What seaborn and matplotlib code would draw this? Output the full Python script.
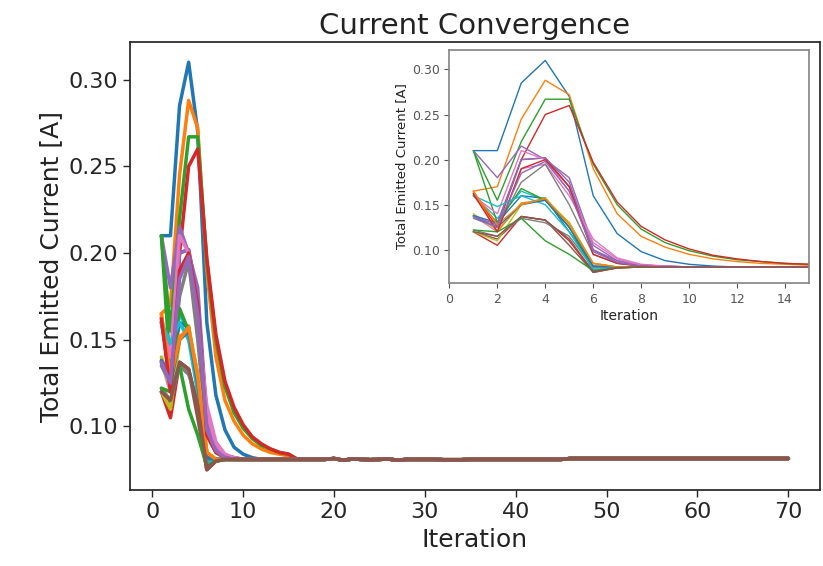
import numpy as np
import pandas as pd
import matplotlib
matplotlib.use("Agg")
import matplotlib.pyplot as plt
import seaborn as sns

# Iterations 1..70
iterations = list(range(1, 71))

# first 15 iterations of each run
head_00 = [0.210, 0.210, 0.285, 0.310, 0.270, 0.160, 0.118, 0.098, 0.088, 0.084, 0.082, 0.081, 0.081, 0.081, 0.081]
head_01 = [0.165, 0.170, 0.245, 0.288, 0.272, 0.190, 0.140, 0.115, 0.103, 0.095, 0.090, 0.087, 0.085, 0.084, 0.083]
head_02 = [0.210, 0.155, 0.220, 0.267, 0.267, 0.195, 0.150, 0.123, 0.108, 0.099, 0.093, 0.089, 0.087, 0.085, 0.084]
head_03 = [0.163, 0.125, 0.200, 0.250, 0.260, 0.197, 0.153, 0.126, 0.111, 0.101, 0.094, 0.090, 0.087, 0.085, 0.084]
head_04 = [0.210, 0.180, 0.215, 0.200, 0.180, 0.105, 0.088, 0.083, 0.082, 0.081, 0.081, 0.081, 0.081, 0.081, 0.081]
head_05 = [0.160, 0.130, 0.200, 0.202, 0.170, 0.100, 0.086, 0.082, 0.081, 0.081, 0.081, 0.081, 0.081, 0.081, 0.081]
head_06 = [0.138, 0.120, 0.190, 0.195, 0.160, 0.112, 0.091, 0.084, 0.082, 0.081, 0.081, 0.081, 0.081, 0.081, 0.081]
head_07 = [0.135, 0.125, 0.175, 0.195, 0.150, 0.095, 0.085, 0.082, 0.081, 0.081, 0.081, 0.081, 0.081, 0.081, 0.081]
head_08 = [0.140, 0.122, 0.150, 0.158, 0.125, 0.085, 0.081, 0.081, 0.081, 0.081, 0.081, 0.081, 0.081, 0.081, 0.081]
head_09 = [0.160, 0.135, 0.165, 0.155, 0.130, 0.080, 0.081, 0.081, 0.081, 0.081, 0.081, 0.081, 0.081, 0.081, 0.081]
head_10 = [0.138, 0.130, 0.160, 0.157, 0.120, 0.082, 0.081, 0.081, 0.081, 0.081, 0.081, 0.081, 0.081, 0.081, 0.081]
head_11 = [0.165, 0.120, 0.152, 0.155, 0.130, 0.085, 0.081, 0.081, 0.081, 0.081, 0.081, 0.081, 0.081, 0.081, 0.081]
head_12 = [0.210, 0.130, 0.168, 0.155, 0.125, 0.077, 0.081, 0.081, 0.081, 0.081, 0.081, 0.081, 0.081, 0.081, 0.081]
head_13 = [0.120, 0.105, 0.137, 0.133, 0.110, 0.075, 0.080, 0.081, 0.081, 0.081, 0.081, 0.081, 0.081, 0.081, 0.081]
head_14 = [0.137, 0.128, 0.200, 0.202, 0.175, 0.100, 0.088, 0.083, 0.082, 0.081, 0.081, 0.081, 0.081, 0.081, 0.081]
head_15 = [0.120, 0.112, 0.137, 0.133, 0.105, 0.075, 0.080, 0.081, 0.081, 0.081, 0.081, 0.081, 0.081, 0.081, 0.081]
head_16 = [0.160, 0.140, 0.210, 0.200, 0.165, 0.108, 0.090, 0.083, 0.082, 0.081, 0.081, 0.081, 0.081, 0.081, 0.081]
head_17 = [0.122, 0.115, 0.135, 0.130, 0.115, 0.080, 0.081, 0.081, 0.081, 0.081, 0.081, 0.081, 0.081, 0.081, 0.081]
head_18 = [0.120, 0.110, 0.150, 0.157, 0.130, 0.085, 0.081, 0.081, 0.081, 0.081, 0.081, 0.081, 0.081, 0.081, 0.081]
head_19 = [0.160, 0.148, 0.160, 0.150, 0.120, 0.078, 0.081, 0.081, 0.081, 0.081, 0.081, 0.081, 0.081, 0.081, 0.081]
head_20 = [0.137, 0.125, 0.150, 0.155, 0.125, 0.082, 0.081, 0.081, 0.081, 0.081, 0.081, 0.081, 0.081, 0.081, 0.081]
head_21 = [0.165, 0.128, 0.150, 0.157, 0.128, 0.085, 0.081, 0.081, 0.081, 0.081, 0.081, 0.081, 0.081, 0.081, 0.081]
head_22 = [0.122, 0.120, 0.135, 0.110, 0.095, 0.077, 0.080, 0.081, 0.081, 0.081, 0.081, 0.081, 0.081, 0.081, 0.081]
head_23 = [0.162, 0.120, 0.190, 0.200, 0.170, 0.095, 0.085, 0.082, 0.081, 0.081, 0.081, 0.081, 0.081, 0.081, 0.081]
head_24 = [0.137, 0.125, 0.185, 0.198, 0.165, 0.098, 0.086, 0.082, 0.081, 0.081, 0.081, 0.081, 0.081, 0.081, 0.081]
head_25 = [0.120, 0.115, 0.137, 0.133, 0.112, 0.076, 0.080, 0.081, 0.081, 0.081, 0.081, 0.081, 0.081, 0.081, 0.081]

# shared converged tail, iterations 16..70
tail = [0.081, 0.081, 0.081, 0.081, 0.0815, 0.0805, 0.0812, 0.081, 0.0808, 0.081,
        0.0812, 0.0805, 0.081, 0.081, 0.081, 0.081, 0.0808, 0.0808, 0.0808, 0.081,
        0.081, 0.081, 0.081, 0.081, 0.081, 0.081, 0.081, 0.081, 0.081, 0.081,
        0.0815, 0.0815, 0.0815, 0.0815, 0.0815, 0.0815, 0.0815, 0.0815, 0.0815, 0.0815,
        0.0815, 0.0815, 0.0815, 0.0815, 0.0815, 0.0815, 0.0815, 0.0815, 0.0815, 0.0815,
        0.0815, 0.0815, 0.0815, 0.0815, 0.0815]

heads = [head_00, head_01, head_02, head_03, head_04, head_05, head_06, head_07,
         head_08, head_09, head_10, head_11, head_12, head_13, head_14, head_15,
         head_16, head_17, head_18, head_19, head_20, head_21, head_22, head_23,
         head_24, head_25]

rows = []
for r, h in enumerate(heads):
    vals = h + tail
    for it, v in zip(iterations, vals):
        rows.append({"Run": r, "Iteration": it, "Current": v})
df = pd.DataFrame(rows)

sns.set_theme(style="ticks")
plt.rcParams['font.family'] = ['DejaVu Sans']
plt.rcParams['text.color'] = '#222222'
plt.rcParams['axes.labelcolor'] = '#222222'

tab = sns.color_palette("tab10", 10)
palette = [tab[i % 10] for i in range(len(heads))]

fig = plt.figure(figsize=(8.23, 5.66), dpi=100)
ax = fig.add_axes([0.158, 0.134, 0.838, 0.792])
sns.lineplot(data=df, x="Iteration", y="Current", hue="Run", palette=palette,
             legend=False, linewidth=2.5, ax=ax)
ax.set_title("Current Convergence", fontsize=21, pad=6)
ax.set_xlabel("Iteration", fontsize=18)
ax.set_ylabel("Total Emitted Current [A]", fontsize=18)
ax.tick_params(labelsize=16, width=1, length=5)
ax.set_yticks([0.10, 0.15, 0.20, 0.25, 0.30])
ax.set_xticks(range(0, 71, 10))

ax2 = fig.add_axes([0.546, 0.50, 0.437, 0.412])
sns.lineplot(data=df, x="Iteration", y="Current", hue="Run", palette=palette,
             legend=False, linewidth=1.0, ax=ax2)
ax2.set_xlim(0, 15)
ax2.set_xticks(range(0, 15, 2))
ax2.set_yticks([0.10, 0.15, 0.20, 0.25, 0.30])
ax2.set_xlabel("Iteration", fontsize=10, labelpad=2)
ax2.set_ylabel("Total Emitted Current [A]", fontsize=9.5, labelpad=3)
ax2.tick_params(labelsize=9, width=0.8, length=3.5, colors='#555555')
for s in ax2.spines.values():
    s.set_color('#888888')

fig.savefig("out.png", dpi=100)
